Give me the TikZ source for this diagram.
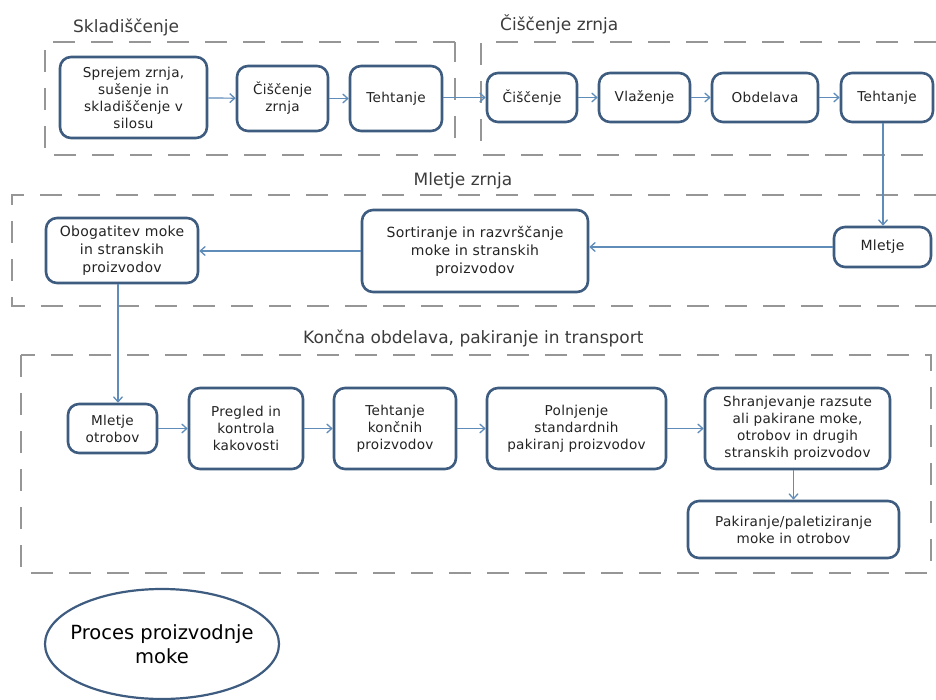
\documentclass[tikz,border=0pt]{standalone}
\usepackage{fontspec}
\setmainfont{DejaVu Sans}
\usetikzlibrary{arrows.meta,shapes.geometric}
\definecolor{boxc}{RGB}{62,92,128}
\definecolor{arrc}{RGB}{95,140,185}
\definecolor{dashc}{RGB}{150,150,150}
\definecolor{txtc}{RGB}{35,35,35}
\definecolor{labc}{RGB}{60,60,60}
\tikzset{
  procbox/.style={draw=boxc, line width=2.6pt, rounded corners=11pt, fill=white,
    align=center, text=txtc, font=\addfontfeature{LetterSpace=2}\fontsize{13.6}{17}\selectfont, inner sep=0pt},
  midbox/.style={procbox, font=\addfontfeature{LetterSpace=2}\fontsize{14}{18}\selectfont},
  flow/.style={draw=arrc, line width=1.2pt, -{Straight Barb[length=5pt,width=9pt,line width=1.3pt]}},
  grp/.style={draw=dashc, line width=1.1pt, dash pattern=on 22pt off 16pt},
  grplab/.style={text=labc, font=\fontsize{17}{20}\selectfont, inner sep=0pt},
}
\begin{document}
\begin{tikzpicture}[x=1pt,y=-1pt]
\useasboundingbox (0,0) rectangle (936,700);
\fill[white] (0,0) rectangle (936,700);

% group frames
\draw[grp] (455,42) -- (45,42) -- (45,155) -- (455,155) -- (455,42);
\draw[grp] (936,42) -- (481,42) -- (481,155) -- (936,155);
\draw[grp] (936,195) -- (12,195) -- (12,306) -- (936,306);
\draw[grp] (21,355) rectangle (931,573);

% group labels
\node[grplab, anchor=west] (l1) at (73,27) {Skladiščenje};
\node[grplab, anchor=west] (l2) at (500,24) {Čiščenje zrnja};
\node[grplab] (l3) at (463,181) {Mletje zrnja};
\node[grplab, anchor=west] (l4) at (303,338) {Končna obdelava, pakiranje in transport};

% row 1
\node[procbox, minimum width=147pt, minimum height=81pt] (spr) at (133.5,97.5) {Sprejem zrnja,\\sušenje in\\skladiščenje v\\silosu};
\node[procbox, minimum width=91pt, minimum height=65pt] (cz) at (282.5,98.5) {Čiščenje\\zrnja};
\node[procbox, minimum width=92pt, minimum height=65pt] (t1) at (396,98.5) {Tehtanje};
\node[procbox, minimum width=90pt, minimum height=49pt] (c2) at (532,97.5) {Čiščenje};
\node[procbox, minimum width=91pt, minimum height=49pt] (vl) at (644.5,97.5) {Vlaženje};
\node[procbox, minimum width=106pt, minimum height=49pt] (ob) at (765,97.5) {Obdelava};
\node[procbox, minimum width=92pt, minimum height=49pt] (t2) at (887,97.5) {Tehtanje};

% row 2
\node[midbox, minimum width=97pt, minimum height=40pt] (ml) at (882.5,247) {Mletje};
\node[midbox, minimum width=226pt, minimum height=82pt] (so) at (475,251) {Sortiranje in razvrščanje\\moke in stranskih\\proizvodov};
\node[midbox, minimum width=152pt, minimum height=65pt] (og) at (122,250.5) {Obogatitev moke\\in stranskih\\proizvodov};

% row 3
\node[procbox, minimum width=89pt, minimum height=49pt] (mo) at (112.5,428.5) {Mletje\\otrobov};
\node[procbox, minimum width=114pt, minimum height=81pt] (pr) at (246,428.5) {Pregled in\\kontrola\\kakovosti};
\node[procbox, minimum width=122pt, minimum height=81pt] (tk) at (395,428.5) {Tehtanje\\končnih\\proizvodov};
\node[procbox, minimum width=179pt, minimum height=81pt] (po) at (576.5,428.5) {Polnjenje\\standardnih\\pakiranj proizvodov};
\node[procbox, minimum width=185pt, minimum height=81pt] (sh) at (797.5,428.5) {Shranjevanje razsute\\ali pakirane moke,\\otrobov in drugih\\stranskih proizvodov};
\node[procbox, minimum width=211pt, minimum height=57pt] (pk) at (793.5,529.5) {Pakiranje/paletiziranje\\moke in otrobov};

% legend ellipse
\node[ellipse, draw=boxc, line width=2.2pt, minimum width=234pt, minimum height=110pt,
  inner sep=0pt] (leg) at (162,644) {};
\node[align=center, text=black, inner sep=0pt, font=\fontsize{19.5}{24}\selectfont] (legtxt) at (leg.center) {Proces proizvodnje\\moke};

% connectors
\draw[flow] (spr) -- (cz);
\draw[flow] (cz) -- (t1);
\draw[flow] (t1.east |- c2.west) -- (c2.west);
\draw[flow] (c2) -- (vl);
\draw[flow] (vl) -- (ob);
\draw[flow] (ob) -- (t2);
\draw[flow] ([xshift=-4pt]t2.south) -- ([xshift=-4pt]t2.south |- ml.north);
\draw[flow] (ml.west) -- (ml.west -| so.east);
\draw[flow] (so.west) -- (so.west -| og.east);
\draw[flow] ([xshift=-4pt]og.south) -- ([xshift=-4pt]og.south |- mo.north);
\draw[flow] (mo) -- (pr);
\draw[flow] (pr) -- (tk);
\draw[flow] (tk) -- (po);
\draw[flow] (po) -- (sh);
\draw[flow] ([xshift=-4pt]sh.south) -- ([xshift=-4pt]sh.south |- pk.north);
\end{tikzpicture}
\end{document}
